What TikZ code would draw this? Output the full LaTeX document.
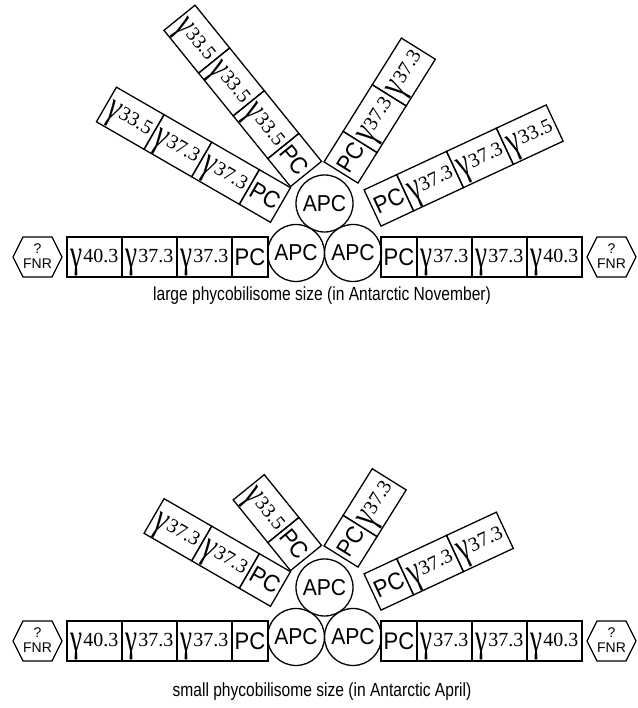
\documentclass[tikz,border=0pt]{standalone}
\usepackage{fontspec}
\setmainfont{Liberation Sans}
\newfontfamily\seriffam{Liberation Serif}
\usepackage{graphicx}
\newsavebox\gbox
\newcommand\gl[1]{\raisebox{-6pt}[0pt][0pt]{%
  \sbox\gbox{\resizebox*{12pt}{27pt}{\seriffam γ}}%
  \raisebox{\dimexpr\dp\gbox-13.5pt\relax}{\usebox\gbox}\kern0.8pt{\fontsize{20}{20}\seriffam #1}}}
\newcommand\pc{\scalebox{0.92}[1]{\fontsize{24}{24}\selectfont PC}}
\newcommand\apc{\scalebox{0.92}[1]{\fontsize{23}{23}\selectfont APC}}
\newcommand\rod[5]{%
  \begin{scope}[shift={#2}, rotate=#3]
    \foreach \lab [count=\i] in {#5}{%
      \ifnum\i=1 \def\bx{18}\def\bw{36}\else \pgfmathsetmacro\bx{36+55*(\i-1.5)}\def\bw{55}\fi
      \node[box, minimum width=\bw pt, rotate=#3+#4] (#1\i) at (\bx,0) {\lab};
    }
  \end{scope}}
\newcommand\core[1]{%
  \node[apcc] (#1apcL) at (296,455) {\apc};
  \node[apcc] (#1apcR) at (353,455) {\apc};
  \node[apcc] (#1apcT) at (324.5,504.5) {\apc};
  \node[box, minimum width=55pt] (#1l4) at (94.5,451) {\gl{40.3}};
  \node[box, minimum width=55pt] (#1l3) at (149.5,451) {\gl{37.3}};
  \node[box, minimum width=55pt] (#1l2) at (204.5,451) {\gl{37.3}};
  \node[box, minimum width=36pt] (#1l1) at (250,451) {\pc};
  \node[box, minimum width=36pt] (#1r1) at (399,451) {\pc};
  \node[box, minimum width=55pt] (#1r2) at (444.5,451) {\gl{37.3}};
  \node[box, minimum width=55pt] (#1r3) at (499.5,451) {\gl{37.3}};
  \node[box, minimum width=55pt] (#1r4) at (554.5,451) {\gl{40.3}};
  \draw[hexline] (13,451) -- (23,471) -- (52,471) -- (62,451) -- (52,431) -- (23,431) -- cycle;
  \node[fnrtext] (#1fnrL) at (37.5,452) {?\\FNR};
  \draw[hexline] (587,451) -- (597,471) -- (626,471) -- (636,451) -- (626,431) -- (597,431) -- cycle;
  \node[fnrtext] (#1fnrR) at (611.5,452) {?\\FNR};
}
\begin{document}
\begin{tikzpicture}[x=1pt,y=1pt,
  box/.style={draw, line width=1.3pt, minimum height=40pt, inner sep=0pt, outer sep=0pt},
  apcc/.style={draw, circle, line width=1.3pt, minimum size=57pt, inner sep=0pt},
  hexline/.style={line width=1.3pt, line join=miter},
  fnrtext/.style={align=center, inner sep=0pt, font=\fontsize{14}{15}\selectfont},
  captxt/.style={inner sep=0pt, font=\fontsize{19}{19}\selectfont}]
\useasboundingbox (0,0) rectangle (637,708);
% top diagram
\core{t}
\rod{tL}{(280.5,503)}{150}{180}{\pc, \gl{37.3}, \gl{37.3}, \gl{33.5}}
\rod{tUL}{(306,534)}{129}{180}{\pc, \gl{33.5}, \gl{33.5}, \gl{33.5}}
\rod{tUR}{(341,535.5)}{58}{0}{\pc, \gl{37.3}, \gl{37.3}}
\rod{tR}{(372.5,500)}{25}{0}{\pc, \gl{37.3}, \gl{37.3}, \gl{33.5}}
\node[captxt] (capT) at (322,412) {\scalebox{0.82}[1]{large phycobilisome size (in Antarctic November)}};
% bottom diagram
\begin{scope}[yshift=-384pt]
\core{b}
\rod{bL}{(280.5,503)}{150}{180}{\pc, \gl{37.3}, \gl{37.3}}
\rod{bUL}{(306,534)}{129}{180}{\pc, \gl{33.5}}
\rod{bUR}{(341,535.5)}{58}{0}{\pc, \gl{37.3}}
\rod{bR}{(372.5,500)}{25}{0}{\pc, \gl{37.3}, \gl{37.3}}
\node[captxt] (capB) at (322,400) {\scalebox{0.82}[1]{small phycobilisome size (in Antarctic April)}};
\end{scope}
\end{tikzpicture}
\end{document}
